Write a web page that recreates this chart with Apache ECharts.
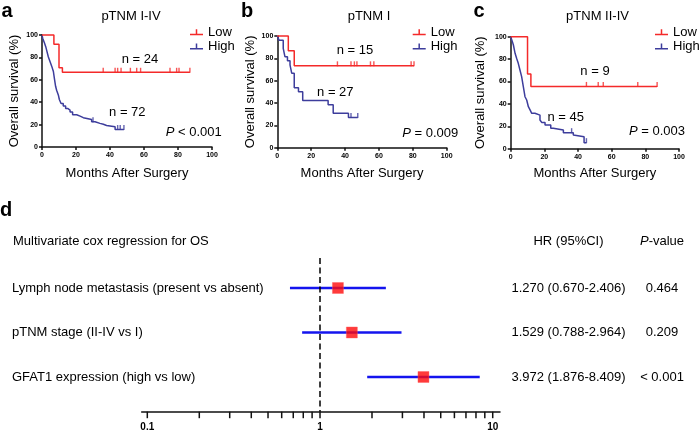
<!DOCTYPE html>
<html>
<head>
<meta charset="utf-8">
<script src="https://cdn.jsdelivr.net/npm/echarts@6/dist/echarts.min.js"></script>
<style>html,body{margin:0;padding:0;background:#fff}#c{width:700px;height:435px}</style>
</head>
<body>
<div id="c"></div>
<script>
// ---------------- DATA ----------------
// Kaplan-Meier step curves: times (months) and survival (%) after each drop
const panelTitles = ['pTNM I-IV', 'pTNM I', 'pTNM II-IV'];
const panelLetters = ['a', 'b', 'c'];
const nLow = ['n = 24', 'n = 15', 'n = 9'];
const nHigh = ['n = 72', 'n = 27', 'n = 45'];
const pTexts = [' < 0.001', ' = 0.009', ' = 0.003'];

const lowA_t = [0, 7, 10, 12, 87];
const lowA_s = [100, 91.7, 70.8, 66.7, 66.7];
const lowA_cens = [36, 43, 44.5, 46.5, 52, 55.7, 58, 75.3, 79.2, 80.6, 87];
const highA_t = [0, 0.4, 1.4, 2.2, 2.9, 3.7, 4.7, 5.7, 6.7, 7.3, 8, 8.6, 9.6, 10.2, 11.2, 12.5, 13.9, 15.1, 16.5, 18, 20.4, 22.4, 24.3, 29.2, 31.2, 34.1, 36.1, 38, 43, 48.2];
const highA_s = [100, 97.2, 93.1, 89.6, 85.4, 80.6, 76.4, 72.2, 67.4, 61.1, 54.2, 50.7, 46.5, 42.4, 38.9, 36.5, 34.4, 33, 31.2, 28.8, 27.6, 26.2, 24.5, 22.6, 21.1, 20.3, 19.2, 18, 15.6, 15.6];
const highA_cens = [30, 44.5, 46, 48.2];

const lowB_t = [0, 6.5, 10, 80.7];
const lowB_s = [100, 86.7, 73.3, 73.3];
const lowB_cens = [35.5, 43.5, 45.5, 47, 55, 57, 79, 80.7];
const highB_t = [0, 1, 3.5, 4.5, 6, 7.5, 8.5, 10, 12.5, 15, 30, 33, 42, 47.5];
const highB_s = [100, 96.3, 88.9, 81.5, 77.8, 74.1, 66.7, 53.6, 50, 42.3, 38.5, 30.8, 27, 27];
const highB_cens = [43.5, 47.5];

const lowC_t = [0, 10, 12, 87];
const lowC_s = [100, 66.7, 55.6, 55.6];
const lowC_cens = [45, 52, 55, 75.5, 87];
const highC_t = [0, 1, 1.6, 2.6, 3.5, 4.5, 5.5, 6.5, 7.5, 8.5, 9.5, 10.5, 11.5, 12.5, 14.4, 17.4, 18.4, 20.4, 23.8, 25.3, 31.3, 37.2, 38.2, 43.6, 45];
const highC_s = [100, 95.6, 92.6, 85.2, 80.7, 76.2, 70.3, 64.3, 55.4, 46.4, 43.5, 37.5, 34.6, 31.6, 30, 25.6, 23.5, 21.2, 18.2, 16.7, 14.3, 12.2, 10.7, 5.4, 5.4];
const highC_cens = [36.2, 45];

const axisTicks = [0, 20, 40, 60, 80, 100];

// Forest plot (multivariate Cox regression)
const forestLabels = ['Lymph node metastasis (present vs absent)', 'pTNM stage (II-IV vs I)', 'GFAT1 expression (high vs low)'];
const forestHR = [1.270, 1.529, 3.972];
const forestLo = [0.670, 0.788, 1.876];
const forestHi = [2.406, 2.964, 8.409];
const forestP = ['0.464', '0.209', '< 0.001'];
const forestTickValues = [0.1, 0.2, 0.3, 0.4, 0.5, 0.6, 0.7, 0.8, 0.9, 1, 2, 3, 4, 5, 6, 7, 8, 9, 10];
const forestTickLabels = ['0.1', '1', '10'];

// ---------------- CHART ----------------
const FONT = '"Liberation Sans", Arial, Helvetica, sans-serif';
const RED = '#f42a2a';
const BLUE = '#3d3d9c';
const chart = echarts.init(document.getElementById('c'), null, {renderer: 'canvas'});

const kmSets = [
  {lowT: lowA_t, lowS: lowA_s, lowC: lowA_cens, highT: highA_t, highS: highA_s, highC: highA_cens},
  {lowT: lowB_t, lowS: lowB_s, lowC: lowB_cens, highT: highB_t, highS: highB_s, highC: highB_cens},
  {lowT: lowC_t, lowS: lowC_s, lowC: lowC_cens, highT: highC_t, highS: highC_s, highC: highC_cens}
];

function survAt(ts, ss, t) {
  let v = ss[0];
  for (let i = 0; i < ts.length; i++) { if (ts[i] <= t + 1e-9) v = ss[i]; }
  return v;
}

// layout
const kmGrids = [
  {left: 42, top: 35, width: 170, height: 112},
  {left: 277.3, top: 36, width: 169.4, height: 111.7},
  {left: 510.7, top: 36.7, width: 168.3, height: 112}
];
const legendLeft = [190, 412.7, 655];
const forestGrid = {left: 141.7, top: 258, width: 358.3, height: 153.7};
const forestYMin = -0.674, forestYMax = 2.78;

const axisLineStyle = {color: '#111', width: 1.5};
const grids = [], xAxes = [], yAxes = [], series = [], legends = [], graphics = [];

function txt(x, y, text, extra) {
  const st = Object.assign({text: text, fill: '#000', font: '13px ' + FONT,
    align: 'center', verticalAlign: 'middle', textAlign: 'center', textVerticalAlign: 'middle'}, extra || {});
  return {type: 'text', x: x, y: y, silent: true, style: st};
}

kmGrids.forEach((g, i) => {
  grids.push(Object.assign({containLabel: false}, g));
  xAxes.push({type: 'value', gridIndex: i, min: axisTicks[0], max: axisTicks[axisTicks.length - 1], interval: axisTicks[1] - axisTicks[0],
    axisLine: {show: true, onZero: false, lineStyle: axisLineStyle},
    axisTick: {show: true, length: 3, lineStyle: axisLineStyle},
    axisLabel: {fontSize: 7, fontWeight: 'bold', color: '#000', margin: 5, fontFamily: FONT},
    splitLine: {show: false}});
  yAxes.push({type: 'value', gridIndex: i, min: axisTicks[0], max: axisTicks[axisTicks.length - 1], interval: axisTicks[1] - axisTicks[0],
    axisLine: {show: true, onZero: false, lineStyle: axisLineStyle},
    axisTick: {show: true, length: 3, lineStyle: axisLineStyle},
    axisLabel: {fontSize: 7, fontWeight: 'bold', color: '#000', margin: 4, fontFamily: FONT},
    splitLine: {show: false}});
  const d = kmSets[i];
  const mk = (ts, ss) => ts.map((t, k) => [t, ss[k]]);
  series.push({type: 'line', name: 'High', xAxisIndex: i, yAxisIndex: i, step: 'end', data: mk(d.highT, d.highS),
    symbol: 'none', clip: false, lineStyle: {color: BLUE, width: 1.5}, itemStyle: {color: BLUE}, z: 3});
  series.push({type: 'line', name: 'Low', xAxisIndex: i, yAxisIndex: i, step: 'end', data: mk(d.lowT, d.lowS),
    symbol: 'none', clip: false, lineStyle: {color: RED, width: 1.5}, itemStyle: {color: RED}, z: 4});
  series.push({type: 'scatter', name: 'High', xAxisIndex: i, yAxisIndex: i, data: d.highC.map(t => [t, survAt(d.highT, d.highS, t)]),
    symbol: 'rect', symbolSize: [1.4, 5], symbolOffset: [0, -2], clip: false, itemStyle: {color: BLUE}, z: 3, silent: true});
  series.push({type: 'scatter', name: 'Low', xAxisIndex: i, yAxisIndex: i, data: d.lowC.map(t => [t, survAt(d.lowT, d.lowS, t)]),
    symbol: 'rect', symbolSize: [1.4, 5], symbolOffset: [0, -2], clip: false, itemStyle: {color: RED}, z: 4, silent: true});
  legends.push({data: ['Low', 'High'], orient: 'vertical', left: legendLeft[i], top: 25, padding: 0, itemGap: 0,
    itemWidth: 13, itemHeight: 6.5, icon: 'path://M0,10h26v3h-26z M11.5,1h3v12h-3z', itemTextGap: 5, selectedMode: false,
    textStyle: {fontSize: 13, fontFamily: FONT, color: '#000', lineHeight: 14.4}});
});

// forest grid
grids.push(forestGrid);
xAxes.push({type: 'log', logBase: 10, gridIndex: 3, min: 0.0928, max: 11.02, position: 'bottom',
  axisLine: {show: true, onZero: false, lineStyle: axisLineStyle},
  axisTick: {show: false}, splitLine: {show: false}, minorTick: {show: false}, minorSplitLine: {show: false},
  axisLabel: {fontSize: 10, fontWeight: 'bold', color: '#000', margin: 11, fontFamily: FONT, showMinLabel: false, showMaxLabel: false,
    formatter: v => { const l = Math.log10(v); const k = Math.round(l); return Math.abs(l - k) < 1e-3 && k >= -1 && k <= 1 ? forestTickLabels[k + 1] : ''; }}});
yAxes.push({type: 'value', gridIndex: 3, min: forestYMin, max: forestYMax, inverse: true, show: false});

series.push({type: 'custom', xAxisIndex: 3, yAxisIndex: 3, silent: true, clip: false,
  data: forestTickValues.map(v => [v, forestYMax]),
  renderItem: (params, api) => {
    const p = api.coord([api.value(0), api.value(1)]);
    return {type: 'line', shape: {x1: p[0], y1: p[1], x2: p[0], y2: p[1] + 6.5}, style: {stroke: '#111', lineWidth: 1.5}};
  }});
series.push({type: 'custom', xAxisIndex: 3, yAxisIndex: 3, silent: true, clip: false, encode: {x: [0, 1], y: 2},
  data: forestLo.map((l, i) => [l, forestHi[i], i]),
  renderItem: (params, api) => {
    const a = api.coord([api.value(0), api.value(2)]);
    const b = api.coord([api.value(1), api.value(2)]);
    return {type: 'line', shape: {x1: a[0], y1: a[1], x2: b[0], y2: b[1]}, style: {stroke: '#1414ee', lineWidth: 2.5}};
  }, z: 3});
series.push({type: 'scatter', xAxisIndex: 3, yAxisIndex: 3, silent: true, z: 5,
  data: forestHR.map((v, i) => [v, i]), symbol: 'rect', symbolSize: 11,
  itemStyle: {color: '#ff0a0a', borderColor: '#ff5a5a', borderWidth: 0.5},
  markLine: {silent: true, symbol: 'none', label: {show: false},
    lineStyle: {color: '#000', type: [6, 3.5], width: 1.5}, data: [{xAxis: 1}]}});

chart.setOption({
  animation: false,
  backgroundColor: '#fff',
  textStyle: {fontFamily: FONT},
  grid: grids, xAxis: xAxes, yAxis: yAxes, legend: legends, series: series
});

// ---------------- TEXT ----------------
const letterX = [7, 247, 479];
const titleX = [131, 369, 597.5];
const ylabX = [14, 250, 480.7];
const nLowPos = [[140, 59], [355, 50.7], [595, 71]];
const nHighPos = [[127.3, 112.7], [335.3, 92.3], [565.7, 117.3]];
const pRight = [221.7, 458.3, 685];
const pY = [132, 133.3, 131];
kmGrids.forEach((g, i) => {
  graphics.push(txt(letterX[i], 11, panelLetters[i], {font: 'bold 20px ' + FONT}));
  graphics.push(txt(titleX[i], 16, panelTitles[i]));
  graphics.push(Object.assign(txt(ylabX[i], g.top + g.height / 2, 'Overall survival (%)'), {rotation: Math.PI / 2}));
  graphics.push(txt(g.left + g.width / 2, 173, 'Months After Surgery'));
  graphics.push(txt(nLowPos[i][0], nLowPos[i][1], nLow[i]));
  graphics.push(txt(nHighPos[i][0], nHighPos[i][1], nHigh[i]));
  graphics.push(txt(pRight[i], pY[i], '{i|P}' + pTexts[i], {align: 'right', textAlign: 'right',
    rich: {i: {font: 'italic 13px ' + FONT, fill: '#000'}}}));
});

graphics.push(txt(6, 210.5, 'd', {font: 'bold 20px ' + FONT}));
graphics.push(txt(13, 241.7, 'Multivariate cox regression for OS', {align: 'left', textAlign: 'left'}));
graphics.push(txt(568.5, 241.7, 'HR (95%CI)'));
graphics.push(txt(662, 241.7, '{i|P}-value', {rich: {i: {font: 'italic 13px ' + FONT, fill: '#000'}}}));
forestLabels.forEach((lab, i) => {
  const y = chart.convertToPixel({gridIndex: 3}, [1, i])[1];
  graphics.push(txt(12, y, lab, {align: 'left', textAlign: 'left'}));
  graphics.push(txt(568.5, y, forestHR[i].toFixed(3) + ' (' + forestLo[i].toFixed(3) + '-' + forestHi[i].toFixed(3) + ')'));
  graphics.push(txt(662, y, forestP[i]));
});

chart.setOption({graphic: graphics});
</script>
</body>
</html>
